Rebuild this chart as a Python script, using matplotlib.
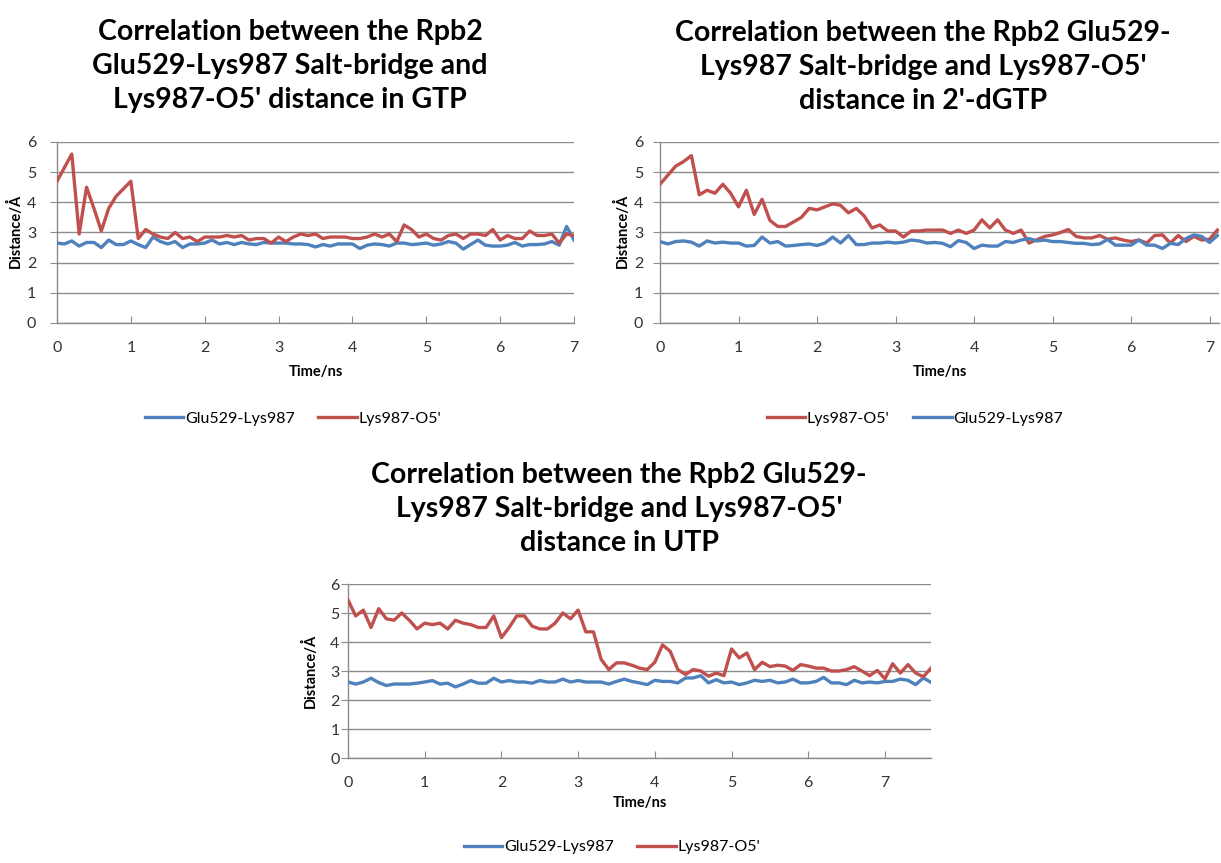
import matplotlib
matplotlib.use('Agg')
import matplotlib.pyplot as plt
import numpy as np

plt.rcParams["font.family"] = ["Lato", "DejaVu Sans"]

# 采样间隔 (ns)
time_step = 0.1

# GTP
gtp_salt = [2.65, 2.62, 2.72, 2.55, 2.67, 2.67, 2.5, 2.75, 2.6, 2.6, 2.72,
            2.6, 2.5, 2.85, 2.7, 2.62, 2.7, 2.5, 2.62, 2.62, 2.65,
            2.75, 2.62, 2.67, 2.6, 2.67, 2.62, 2.6, 2.67, 2.65, 2.65,
            2.65, 2.62, 2.62, 2.6, 2.52, 2.6, 2.55, 2.62, 2.62, 2.62,
            2.47, 2.58, 2.62, 2.6, 2.55, 2.65, 2.65, 2.6, 2.62, 2.65,
            2.58, 2.62, 2.7, 2.65, 2.45, 2.6, 2.75, 2.58, 2.55, 2.55,
            2.58, 2.67, 2.55, 2.6, 2.6, 2.62, 2.7, 2.58, 3.2, 2.75]
gtp_o5 = [4.7, 5.15, 5.6, 2.95, 4.5, 3.8, 3.05, 3.8, 4.2, 4.45, 4.7,
          2.8, 3.1, 2.95, 2.85, 2.8, 3.0, 2.8, 2.85, 2.7, 2.85,
          2.85, 2.85, 2.9, 2.85, 2.9, 2.75, 2.8, 2.8, 2.65, 2.85,
          2.7, 2.85, 2.95, 2.9, 2.95, 2.8, 2.85, 2.85, 2.85, 2.8,
          2.8, 2.85, 2.95, 2.85, 2.95, 2.7, 3.25, 3.1, 2.85, 2.95,
          2.8, 2.75, 2.9, 2.95, 2.8, 2.95, 2.95, 2.9, 3.1, 2.75,
          2.9, 2.8, 2.8, 3.05, 2.9, 2.9, 2.95, 2.65, 2.95, 2.9]

# 2'-dGTP
dgtp_salt = [2.7, 2.62, 2.7, 2.72, 2.68, 2.55, 2.72, 2.65, 2.68, 2.65,
             2.65, 2.55, 2.57, 2.85, 2.65, 2.7, 2.55, 2.57, 2.6, 2.62,
             2.57, 2.65, 2.85, 2.65, 2.9, 2.6, 2.6, 2.65, 2.65, 2.68,
             2.65, 2.68, 2.75, 2.72, 2.65, 2.67, 2.64, 2.53, 2.73, 2.67,
             2.47, 2.58, 2.55, 2.55, 2.7, 2.67, 2.75, 2.8, 2.72, 2.75,
             2.7, 2.7, 2.67, 2.64, 2.64, 2.6, 2.62, 2.77, 2.58, 2.58,
             2.58, 2.75, 2.58, 2.58, 2.47, 2.64, 2.6, 2.8, 2.92, 2.87,
             2.67, 2.9]
dgtp_o5 = [4.6, 4.9, 5.2, 5.35, 5.55, 4.25, 4.4, 4.3, 4.6, 4.3,
           3.85, 4.4, 3.6, 4.1, 3.4, 3.2, 3.2, 3.35, 3.5, 3.8,
           3.75, 3.85, 3.95, 3.9, 3.65, 3.8, 3.55, 3.15, 3.25, 3.05,
           3.05, 2.85, 3.05, 3.05, 3.08, 3.08, 3.08, 2.97, 3.08, 2.97,
           3.08, 3.42, 3.15, 3.42, 3.08, 2.97, 3.08, 2.65, 2.76, 2.87,
           2.92, 3.0, 3.1, 2.87, 2.82, 2.82, 2.9, 2.78, 2.82, 2.75,
           2.7, 2.75, 2.65, 2.9, 2.92, 2.65, 2.9, 2.7, 2.87, 2.75,
           2.78, 3.08]

# UTP
utp_salt = [2.62, 2.55, 2.62, 2.75, 2.6, 2.5, 2.55, 2.55, 2.55, 2.58,
            2.62, 2.67, 2.55, 2.58, 2.45, 2.55, 2.67, 2.58, 2.58, 2.75,
            2.62, 2.67, 2.62, 2.62, 2.58, 2.67, 2.62, 2.62, 2.72, 2.62,
            2.67, 2.62, 2.62, 2.62, 2.55, 2.64, 2.72, 2.64, 2.59, 2.53,
            2.68, 2.64, 2.64, 2.59, 2.76, 2.76, 2.84, 2.59, 2.7, 2.59,
            2.62, 2.53, 2.59, 2.68, 2.64, 2.68, 2.59, 2.62, 2.72, 2.59,
            2.59, 2.64, 2.78, 2.59, 2.59, 2.53, 2.68, 2.59, 2.62, 2.59,
            2.64, 2.64, 2.72, 2.68, 2.53, 2.76, 2.61]
utp_o5 = [5.45, 4.9, 5.1, 4.5, 5.15, 4.8, 4.75, 5.0, 4.75, 4.45,
          4.65, 4.6, 4.65, 4.45, 4.75, 4.65, 4.6, 4.5, 4.5, 4.9,
          4.15, 4.5, 4.9, 4.9, 4.55, 4.45, 4.45, 4.65, 5.0, 4.8,
          5.1, 4.35, 4.35, 3.4, 3.05, 3.28, 3.28, 3.2, 3.1, 3.05,
          3.3, 3.9, 3.68, 3.05, 2.88, 3.05, 3.0, 2.82, 2.93, 2.84,
          3.76, 3.45, 3.62, 3.05, 3.3, 3.15, 3.2, 3.17, 3.02, 3.22,
          3.17, 3.1, 3.1, 3.0, 3.0, 3.05, 3.15, 3.0, 2.84, 3.02,
          2.73, 3.25, 2.93, 3.22, 2.93, 2.8, 3.1]

titles = [
    "Correlation between the Rpb2\nGlu529-Lys987 Salt-bridge and\nLys987-O5' distance in GTP",
    "Correlation between the Rpb2 Glu529-\nLys987 Salt-bridge and Lys987-O5'\ndistance in 2'-dGTP",
    "Correlation between the Rpb2 Glu529-\nLys987 Salt-bridge and Lys987-O5'\ndistance in UTP",
]
label_salt = "Glu529-Lys987"
label_o5 = "Lys987-O5'"
y_ticks = [0, 1, 2, 3, 4, 5, 6]

BLUE = "#4F81BD"
RED = "#C0504D"
GRID = "#8c8c8c"

W, H = 1221, 863
fig = plt.figure(figsize=(W / 100, H / 100), dpi=100)


def px_axes(l, t, r, b):
    return fig.add_axes([l / W, 1 - b / H, (r - l) / W, (b - t) / H])


# 每个面板: 坐标轴像素框, x 范围, 标题中心, 图例中心, y 标签位置, y 刻度间距, 曲线顺序
panels = [
    dict(box=(57, 142, 574, 323), xmax=7.0, title=(290, 66), legend=(293, 419),
         xlab=372, ylab=(15, 231), ypad=10, order="salt_first",
         salt=gtp_salt, o5=gtp_o5),
    dict(box=(660, 142, 1219, 323), xmax=7.12, title=(923, 67), legend=(915, 419),
         xlab=372, ylab=(622, 231), ypad=7, order="o5_first",
         salt=dgtp_salt, o5=dgtp_o5),
    dict(box=(348, 584, 931, 758), xmax=7.6, title=(619, 509), legend=(612, 847),
         xlab=803, ylab=(310, 671), ypad=1, order="salt_first",
         salt=utp_salt, o5=utp_o5),
]

for p, title in zip(panels, titles):
    ax = px_axes(*p["box"])
    t_salt = np.arange(len(p["salt"])) * time_step
    t_o5 = np.arange(len(p["o5"])) * time_step

    if p["order"] == "salt_first":
        ax.plot(t_salt, p["salt"], color=BLUE, lw=2.4, label=label_salt, zorder=3)
        ax.plot(t_o5, p["o5"], color=RED, lw=2.4, label=label_o5, zorder=3)
    else:
        ax.plot(t_o5, p["o5"], color=RED, lw=2.4, label=label_o5, zorder=3)
        ax.plot(t_salt, p["salt"], color=BLUE, lw=2.4, label=label_salt, zorder=3)

    ax.set_xlim(0, p["xmax"])
    ax.set_ylim(0, 6)
    ax.set_yticks(y_ticks)
    ax.set_xticks(range(0, int(p["xmax"]) + 1))
    ax.yaxis.grid(True, color=GRID, lw=1)
    ax.set_axisbelow(True)

    for s in ["top", "right"]:
        ax.spines[s].set_visible(False)
    for s in ["left", "bottom"]:
        ax.spines[s].set_color(GRID)
        ax.spines[s].set_linewidth(1)

    ax.tick_params(axis="x", direction="in", length=5, color=GRID, pad=13,
                   labelsize=11.5, labelcolor="#333333")
    ax.tick_params(axis="y", direction="out", length=5, color=GRID, pad=p["ypad"],
                   labelsize=11.5, labelcolor="#333333")

    l, t, r, b = p["box"]
    fig.text((l + r) / 2 / W, 1 - p["xlab"] / H, "Time/ns",
             ha="center", va="center", fontsize=10.5, fontweight="bold")
    fig.text(p["ylab"][0] / W, 1 - p["ylab"][1] / H, "Distance/Å", rotation=90,
             ha="center", va="center", fontsize=10.5, fontweight="bold")

    fig.text(p["title"][0] / W, 1 - p["title"][1] / H, title, ha="center",
             va="center", fontsize=20.5, fontweight="bold", linespacing=1.38)

    ax.legend(loc="center", bbox_to_anchor=(p["legend"][0] / W, 1 - p["legend"][1] / H),
              bbox_transform=fig.transFigure, ncol=2, frameon=False, fontsize=11.5,
              handlelength=2.4, handletextpad=0.1, columnspacing=1.5)

fig.savefig("out.png", dpi=100)
